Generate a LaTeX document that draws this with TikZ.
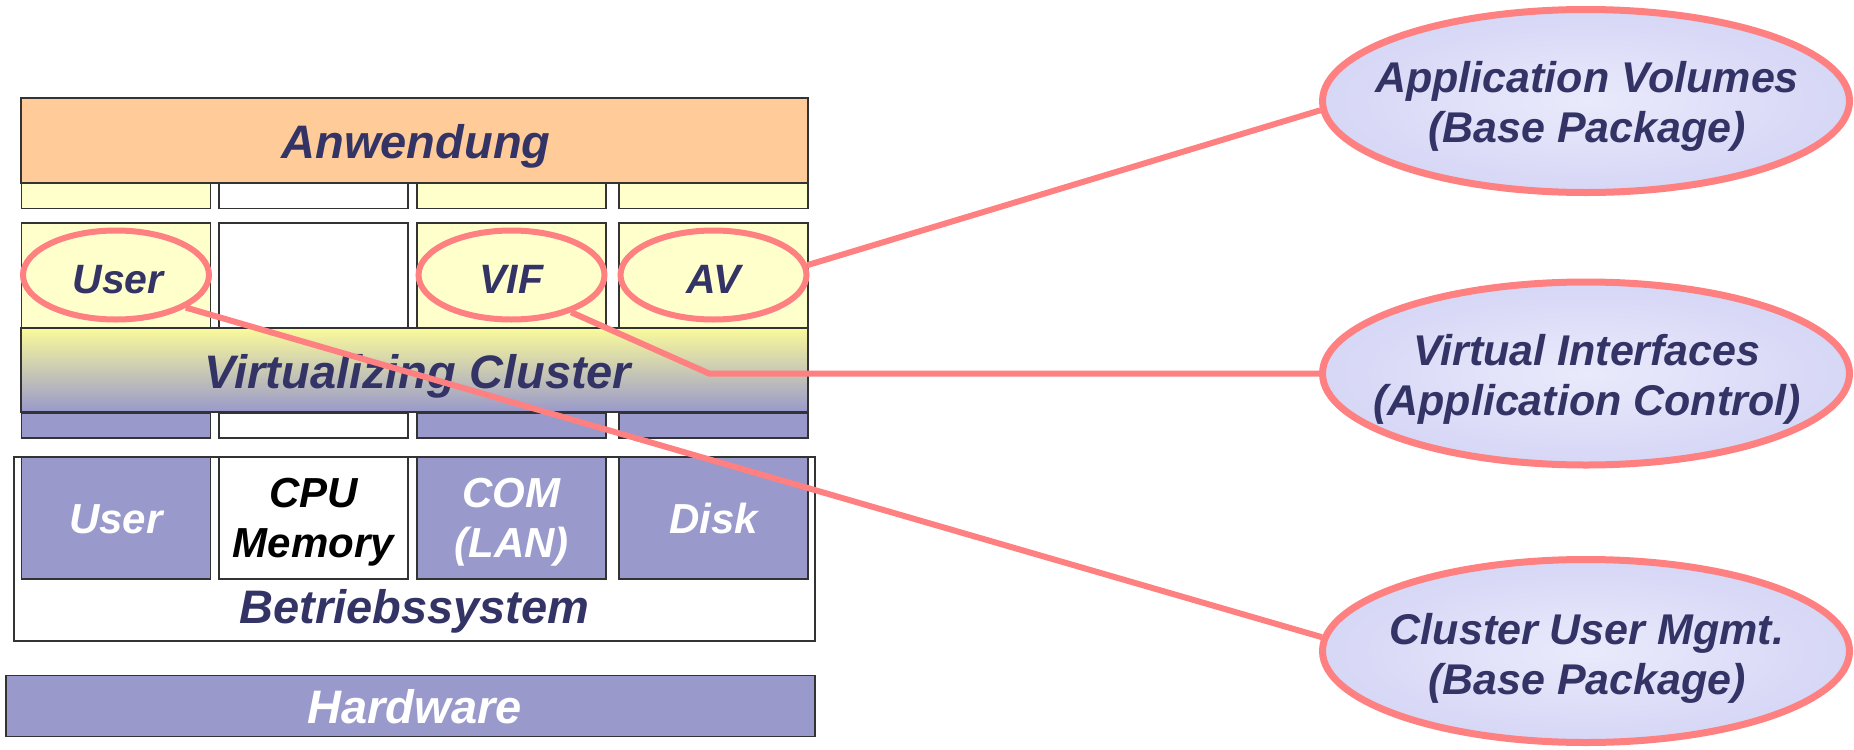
\documentclass[tikz,border=0pt]{standalone}
\usepackage{fontspec}
\setmainfont{Liberation Sans}
\usetikzlibrary{shapes.geometric}

\definecolor{navy}{RGB}{51,51,102}
\definecolor{peach}{RGB}{255,204,153}
\definecolor{paleyellow}{RGB}{255,255,204}
\definecolor{lilac}{RGB}{153,153,204}
\definecolor{salmon}{RGB}{255,128,128}
\definecolor{vcyellow}{RGB}{250,250,155}
\definecolor{lavin}{RGB}{234,234,252}
\definecolor{lavout}{RGB}{214,214,246}

\begin{document}
\begin{tikzpicture}[x=0.5pt,y=-0.5pt,
  box/.style={draw=black!80, line width=0.7pt, inner sep=0pt, minimum width=94.5pt},
  wide/.style={box, minimum width=393.5pt},
  yel/.style={fill=paleyellow},
  wht/.style={fill=white},
  lil/.style={fill=lilac},
  strip/.style={minimum height=12.5pt},
  cell/.style={minimum height=52.5pt},
  big/.style={font=\fontsize{23.5}{28}\selectfont\bfseries\itshape, text=navy, anchor=base, inner sep=0pt},
  mid/.style={font=\fontsize{20.5}{25}\selectfont\bfseries\itshape, text=navy, anchor=base, inner sep=0pt},
  hwtext/.style={font=\fontsize{21}{25}\selectfont\bfseries\itshape, anchor=base, inner sep=0pt},
  ring/.style={ellipse, draw=salmon, line width=3pt, fill=paleyellow, inner sep=0pt,
    minimum width=93pt, minimum height=44.5pt},
  bubble/.style={ellipse, draw=salmon, line width=3.5pt, inner sep=0pt,
    inner color=lavin, outer color=lavout, minimum width=263.5pt, minimum height=91.5pt},
  bubbletext/.style={font=\fontsize{21.5}{25}\selectfont\bfseries\itshape, text=navy,
    align=center, anchor=base, inner sep=0pt},
  link/.style={draw=salmon, line width=3pt}
]
\useasboundingbox (0,0) rectangle (1854,750);

% application layer
\node[wide, fill=peach, minimum height=42.5pt] (anw) at (414.5,140.5) {};
\node[big] (anwtext) at (416,158) {Anwendung};

% upper interface strip
\node[box, yel, strip] (us1) at (116,196) {};
\node[box, wht, strip] (us2) at (313.5,196) {};
\node[box, yel, strip] (us3) at (511.5,196) {};
\node[box, yel, strip] (us4) at (713.5,196) {};

% cluster service row
\node[box, yel, cell] (cs1) at (116,275.5) {};
\node[box, wht, cell] (cs2) at (313.5,275.5) {};
\node[box, yel, cell] (cs3) at (511.5,275.5) {};
\node[box, yel, cell] (cs4) at (713.5,275.5) {};

% virtualizing cluster layer
\node[wide, top color=vcyellow, bottom color=lilac, minimum height=42pt] (vc) at (414.5,370) {};
\node[big] (vctext) at (418,388) {Virtualizing Cluster};

% lower interface strip
\node[box, lil, strip] (ls1) at (116,425.5) {};
\node[box, wht, strip] (ls2) at (313.5,425.5) {};
\node[box, lil, strip] (ls3) at (511.5,425.5) {};
\node[box, lil, strip] (ls4) at (713.5,425.5) {};

% operating system
\node[box, fill=white, minimum width=400.5pt, minimum height=92pt] (os) at (414.5,549) {};
\node[box, lil, minimum height=61pt] (os1) at (116,518) {};
\node[box, wht, minimum height=61pt] (os2) at (313.5,518) {};
\node[box, lil, minimum height=61pt] (os3) at (511.5,518) {};
\node[box, lil, minimum height=61pt] (os4) at (713.5,518) {};
\node[hwtext, text=white] (os1text) at (116,533) {User};
\node[hwtext, text=black, align=center] (os2text) at (313.5,557) {CPU\\Memory};
\node[hwtext, text=white, align=center] (os3text) at (511.5,557) {COM\\(LAN)};
\node[hwtext, text=white] (os4text) at (713.5,533) {Disk};
\node[big] (ostext) at (414.5,623) {Betriebssystem};

% hardware
\node[box, lil, minimum width=404.5pt, minimum height=30.5pt] (hw) at (410.5,706) {};
\node[big, text=white] (hwlabel) at (414.5,723) {Hardware};

% highlighted cluster services
\node[ring] (user) at (116,275) {};
\node[ring] (vif) at (511.5,275) {};
\node[ring] (av) at (713.5,275) {};
\node[mid] (usertext) at (118,293) {User};
\node[mid] (viftext) at (511.5,293) {VIF};
\node[mid] (avtext) at (713.5,293) {AV};

% package descriptions
\node[bubble] (app) at (1586,101) {};
\node[bubble] (vi) at (1586,373.5) {};
\node[bubble] (cum) at (1586,651) {};
\node[bubbletext] (apptext) at (1587,142) {Application Volumes\\(Base Package)};
\node[bubbletext] (vitext) at (1587,415) {Virtual Interfaces\\(Application Control)};
\node[bubbletext] (cumtext) at (1587,694) {Cluster User Mgmt.\\(Base Package)};

% connectors
\coordinate (bend) at (709,373.5);
\draw[link] (av.6) -- (app.182.6);
\draw[link] (vif.-32) -- (bend) -- (vi.west);
\draw[link] (user.-25) -- (cum.177);
\end{tikzpicture}
\end{document}
